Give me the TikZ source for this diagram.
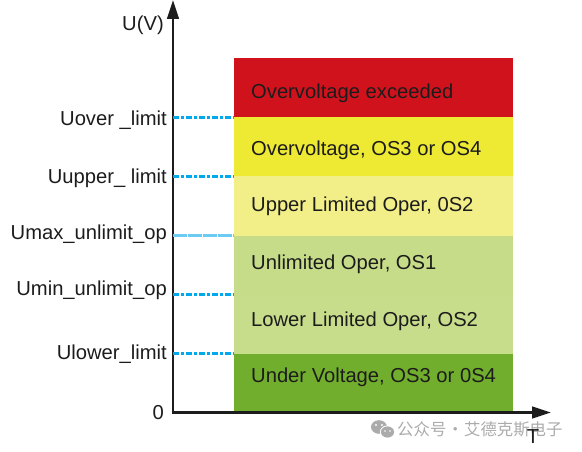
\documentclass[tikz,border=0pt]{standalone}
\usepackage{fontspec}
\setmainfont{Liberation Sans}
\newfontfamily\cjk{Noto Sans CJK SC}
\usetikzlibrary{arrows.meta}
\definecolor{bandA}{HTML}{D0121C}
\definecolor{bandB}{HTML}{EEE933}
\definecolor{bandC}{HTML}{F2EF88}
\definecolor{bandD}{HTML}{C6DC88}
\definecolor{bandE}{HTML}{C8DD8B}
\definecolor{bandF}{HTML}{72AE2D}
\definecolor{guidecol}{HTML}{00A8EC}
\definecolor{thincol}{HTML}{6CCBF2}
\definecolor{ink}{HTML}{1C1C1C}
\definecolor{wmgrey}{HTML}{ABABAB}
\tikzset{
  x=1pt,y=-1pt,
  band/.style={draw=none,minimum width=279pt,minimum height=#1,inner sep=0pt,outer sep=0pt,anchor=north west},
  bandlabel/.style={text=ink,font=\fontsize{20.2}{22}\selectfont,anchor=west,inner sep=0pt},
  level/.style={text=ink,font=\fontsize{20.2}{22}\selectfont,anchor=east,inner sep=0pt},
  axis/.style={draw=ink,line width=2.8pt,-{Triangle[length=19pt,width=11.5pt]}},
  guideline/.style={draw=guidecol,line width=2.8pt,dash pattern=on 6pt off 2pt on 3pt off 2pt},
  thinguide/.style={draw=thincol,line width=2.2pt,dash pattern=on 14pt off 1pt},
}
\begin{document}
\begin{tikzpicture}
\useasboundingbox (0,0) rectangle (582,452);
% bands
\node[band=59.5pt,fill=bandA] (b1) at (234,58) {};
\node[band=59pt,fill=bandB] (b2) at (234,117.5) {};
\node[band=59pt,fill=bandC] (b3) at (234,176.5) {};
\node[band=59pt,fill=bandD] (b4) at (234,235.5) {};
\node[band=59pt,fill=bandE] (b5) at (234,294.5) {};
\node[band=59pt,fill=bandF] (b6) at (234,353.5) {};
\node[bandlabel] (l1) at (251,93) {Overvoltage exceeded};
\node[bandlabel] (l2) at (251,150) {Overvoltage, OS3 or OS4};
\node[bandlabel] (l3) at (251,206) {Upper Limited Oper, 0S2};
\node[bandlabel] (l4) at (251,264) {Unlimited Oper, OS1};
\node[bandlabel] (l5) at (251,321) {Lower Limited Oper, OS2};
\node[bandlabel] (l6) at (251,377) {Under Voltage, OS3 or 0S4};
% axes
\coordinate (o) at (173,412.5);
\coordinate (ytip) at (173,0);
\coordinate (xtip) at (551,412.5);
\draw[axis] (o) -- (ytip);
\draw[axis] ([xshift=-1.4pt]o) -- (xtip);
% levels
\node[level] (u1) at (167,120) {Uover \_limit};
\node[level] (u2) at (167,178) {Uupper\_ limit};
\node[level] (u3) at (167,234) {Umax\_unlimit\_op};
\node[level] (u4) at (167,290) {Umin\_unlimit\_op};
\node[level] (u5) at (167,354) {Ulower\_limit};
\node[level] (u0) at (164,413) {0};
\node[text=ink,font=\fontsize{20.2}{22}\selectfont,inner sep=0pt] (ylab) at (143,25) {U(V)};
% watermark
\fill[wmgrey] (379,427) ellipse [x radius=8pt,y radius=6.8pt];
\fill[white] (387.5,432) ellipse [x radius=7.6pt,y radius=6.6pt];
\fill[wmgrey] (387.5,432) ellipse [x radius=6.6pt,y radius=5.6pt];
\fill[white] (376,425) circle [radius=1.1pt] (382,425) circle [radius=1.1pt] (385,431) circle [radius=.9pt] (390,431) circle [radius=.9pt];
\node[text=wmgrey,font=\cjk\fontsize{16.4}{18}\selectfont,anchor=west,inner sep=0pt] (wm) at (397,429) {公众号\hspace{-3pt} · \hspace{-3pt}艾德克斯电子};
\node[text=ink,font=\fontsize{20.2}{22}\selectfont,inner sep=0pt] (xlab) at (533,437) {T};
% guides
\coordinate (g1) at (173,117.5);
\coordinate (g2) at (173,176.5);
\coordinate (g3) at (173,235.5);
\coordinate (g4) at (173,294.5);
\coordinate (g5) at (173,353.5);
\draw[guideline] (g1) -- (b1.south west);
\draw[guideline] (g2) -- (b2.south west);
\draw[thinguide] (g3) -- (b3.south west);
\draw[guideline] (g4) -- (b4.south west);
\draw[guideline] (g5) -- (b5.south west);
\end{tikzpicture}
\end{document}
